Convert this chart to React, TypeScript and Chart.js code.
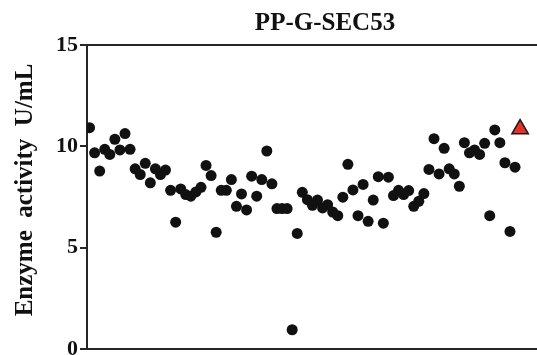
import React, { useEffect, useRef } from "react";
import { Chart, registerables } from "chart.js";

Chart.register(...registerables);

const titleText = "PP-G-SEC53";
const yAxisTitle = "Enzyme  activity  U/mL";
const yTicks = [0, 5, 10, 15];

// Sample activities (black dots), in order
const sampleValues = [
  10.92, 9.68, 8.78, 9.85, 9.6, 10.35, 9.82, 10.63, 9.85, 8.89,
  8.61, 9.16, 8.2, 8.89, 8.61, 8.83, 7.83, 6.26, 7.9, 7.62,
  7.54, 7.75, 7.98, 9.06, 8.56, 5.76, 7.83, 7.83, 8.36, 7.04,
  7.65, 6.86, 8.53, 7.54, 8.36, 9.77, 8.15, 6.93, 6.93, 6.93,
  0.95, 5.7, 7.73, 7.37, 7.09, 7.35, 6.96, 7.12, 6.76, 6.58,
  7.49, 9.11, 7.85, 6.58, 8.12, 6.3, 7.35, 8.5, 6.21, 8.48,
  7.57, 7.83, 7.62, 7.82, 7.04, 7.29, 7.67, 8.86, 10.38, 8.64,
  9.9, 8.89, 8.64, 8.03, 10.18, 9.68, 9.82, 9.6, 10.15, 6.58,
  10.81, 10.18, 9.19, 5.8, 8.97,
];
// Reference strain (red triangle)
const referenceValue = [10.85];

export default function App() {
  const canvasRef = useRef<HTMLCanvasElement | null>(null);

  useEffect(() => {
    if (!canvasRef.current) return;
    const samplePts = sampleValues.map((v, i) => ({ x: i + 1, y: v }));
    const refPts = referenceValue.map((v, i) => ({ x: sampleValues.length + 1 + i, y: v }));
    const axisColor = "#262626";
    const serif = "'Liberation Serif', 'Times New Roman', serif";

    const yTitlePlugin = {
      id: "yTitle",
      afterDraw(c: any) {
        const ctx = c.ctx;
        ctx.save();
        ctx.translate(25.5, 190);
        ctx.rotate(-Math.PI / 2);
        ctx.textAlign = "center";
        ctx.textBaseline = "middle";
        ctx.fillStyle = "#111";
        ctx.font = `bold 25px ${serif}`;
        ctx.fillText(yAxisTitle, 0, 0);
        ctx.restore();
      },
    };

    const chart = new Chart(canvasRef.current, {
      type: "scatter",
      data: {
        datasets: [
          {
            data: samplePts,
            backgroundColor: "#111111",
            borderColor: "#111111",
            borderWidth: 0,
            pointRadius: 5.5,
            pointStyle: "circle",
          },
          {
            data: refPts,
            backgroundColor: "#e8302a",
            borderColor: "#1a1a1a",
            borderWidth: 1.5,
            pointRadius: 9.5,
            pointStyle: "triangle",
          },
        ],
      },
      plugins: [yTitlePlugin],
      options: {
        animation: false,
        responsive: true,
        maintainAspectRatio: false,
        layout: { padding: { top: 0, bottom: 4, left: 0, right: 0 } },
        plugins: {
          legend: { display: false },
          tooltip: { enabled: false },
          title: {
            display: true,
            text: titleText,
            color: "#111",
            font: { family: serif, size: 25, weight: "bold" },
            padding: { top: 9, bottom: 6 },
          },
        },
        scales: {
          x: {
            type: "linear",
            position: "bottom",
            min: 0.497,
            max: 109.47,
            ticks: { display: false },
            grid: { display: false },
            border: { display: true, color: axisColor, width: 2 },
            afterFit: (s: any) => { s.height = 0; },
          },
          x2: {
            type: "linear",
            position: "top",
            min: 0.497,
            max: 109.47,
            ticks: { display: false },
            grid: { display: false },
            border: { display: true, color: axisColor, width: 2 },
            afterFit: (s: any) => { s.height = 0; },
          },
          y: {
            min: 0,
            max: 15,
            afterBuildTicks: (s: any) => { s.ticks = yTicks.map((v) => ({ value: v })); },
            ticks: {
              color: "#111",
              padding: 2,
              font: { family: serif, size: 22, weight: "bold" },
            },
            grid: {
              display: true,
              drawOnChartArea: false,
              drawTicks: true,
              tickLength: 7,
              color: axisColor,
              lineWidth: 2,
            },
            border: { display: true, color: axisColor, width: 2 },
            title: { display: false },
            afterFit: (s: any) => {
              s.width = 87;
              s.paddingTop = 0;
              s.paddingBottom = 0;
            },
          },
        },
      },
    });
    return () => chart.destroy();
  }, []);

  return (
    <div style={{ position: "fixed", left: 0, top: 0, width: 537, height: 355, overflow: "hidden", background: "#fff" }}>
      <div style={{ position: "absolute", left: 0, top: 0, width: 650, height: 360 }}>
        <canvas ref={canvasRef} />
      </div>
    </div>
  );
}
